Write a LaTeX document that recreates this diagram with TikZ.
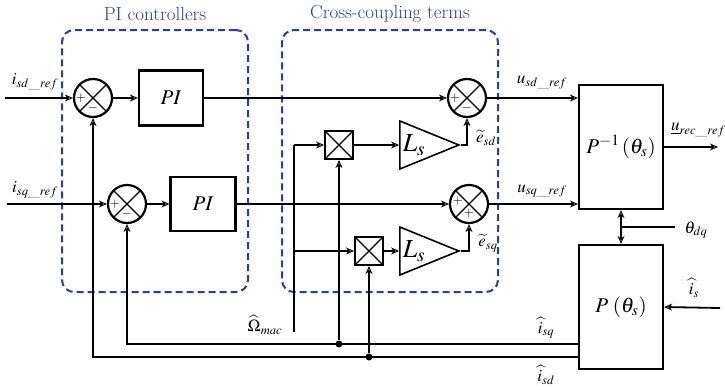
\documentclass[tikz,border=0pt]{standalone}
\usepackage{mathptmx}
\usetikzlibrary{arrows.meta,shapes.geometric}
\definecolor{grpblue}{RGB}{40,60,165}

\begin{document}
\begin{tikzpicture}[
  x=1pt, y=-1pt,
  every node/.style={inner sep=1pt},
  lbl/.style={font=\fontsize{17}{19}\selectfont},
  ttl/.style={font=\fontsize{19}{22}\selectfont, text=grpblue},
  sgn/.style={font=\fontsize{13}{14}\selectfont, inner sep=0pt},
  blk/.style={draw, line width=2.2pt, inner sep=0pt, font=\fontsize{21}{24}\selectfont},
  % summing junctions and multipliers carry a cross inside
  sum/.style={circle, draw, line width=2.2pt, minimum size=38pt, inner sep=0pt,
    path picture={\draw[line width=1.3pt]
      (path picture bounding box.north west) -- (path picture bounding box.south east)
      (path picture bounding box.north east) -- (path picture bounding box.south west);}},
  mult/.style={draw, line width=2pt, minimum size=28pt, inner sep=0pt,
    path picture={\draw[line width=1.3pt]
      (path picture bounding box.north west) -- (path picture bounding box.south east)
      (path picture bounding box.north east) -- (path picture bounding box.south west);}},
  gain/.style={isosceles triangle, isosceles triangle stretches, draw, line width=1.6pt,
    minimum width=48pt, minimum height=59pt, inner sep=0pt, font=\fontsize{26}{28}\selectfont},
  grp/.style={draw=grpblue, line width=2pt, dash pattern=on 7pt off 4pt, rounded corners=12pt},
  dot/.style={circle, fill, minimum size=7pt, inner sep=0pt},
  wire/.style={draw, line width=1.8pt},
  arrow/.style={wire, -{Stealth[open, length=8pt, width=7pt, line width=1pt]}}]

  \useasboundingbox (0,0) rectangle (725,389);

  % dashed groups
  \node[grp, minimum width=186pt, minimum height=262pt] (grppi) at (155,161) {};
  \node[grp, minimum width=216pt, minimum height=262pt] (grpcc) at (390,161) {};
  \node[ttl] (ttlpi) at (155,14) {PI controllers};
  \node[ttl] (ttlcc) at (390,14) {Cross-coupling terms};

  % vertices
  \node[sum] (sum1) at (93,98) {};
  \node[sum] (sum2) at (127,204) {};
  \node[sum] (sum3) at (467,98) {};
  \node[sum] (sum4) at (469,204) {};
  \node[blk, minimum width=64pt, minimum height=55pt] (pi1) at (171,98) {$PI$};
  \node[blk, minimum width=65pt, minimum height=54pt] (pi2) at (203,204) {$PI$};
  \node[mult] (mult1) at (339,145) {};
  \node[mult] (mult2) at (369,251) {};
  \node[gain] (gain1) at (414,145) {$L_s$};
  \node[gain] (gain2) at (414,251) {$L_s$};
  \node[blk, minimum width=84pt, minimum height=124pt] (pinv) at (621,147) {$P^{-1}\,(\theta_s)$};
  \node[blk, minimum width=84pt, minimum height=124pt] (pdir) at (621,307) {$P\;(\theta_s)$};
  \node[dot] (dotq) at (339,344) {};
  \node[dot] (dotd) at (369,357) {};
  \coordinate (isdin) at (5,98);
  \coordinate (isqin) at (7,204);
  \coordinate (urecout) at (718,147);
  \coordinate (thj) at (621,227);
  \coordinate (thin) at (675,227);
  \coordinate (isin) at (720,308);
  \coordinate (wtop) at (294,145);
  \coordinate (wbot) at (294,332);

  % arrows
  \draw[arrow] (isdin) -- (sum1);
  \draw[arrow] (sum1) -- (pi1);
  \draw[arrow] (pi1) -- (sum3);
  \draw[arrow] (sum3) -- (pinv.west |- sum3);
  \draw[arrow] (isqin) -- (sum2);
  \draw[arrow] (sum2) -- (pi2);
  \draw[arrow] (pi2) -- (sum4);
  \draw[arrow] (sum4) -- (pinv.west |- sum4);
  \draw[arrow] (pinv.east) -- (urecout);
  \draw[wire] (thin) -- (thj);
  \draw[arrow] (thj) -- (pinv.south);
  \draw[arrow] (thj) -- (pdir.north);
  \draw[arrow] (isin) -- (pdir.east);
  \draw[arrow] (pdir.west |- dotd) -| (sum1);
  \draw[arrow] (pdir.west |- dotq) -| (sum2);
  \draw[arrow] (dotq) -- (mult1);
  \draw[arrow] (dotd) -- (mult2);
  \draw[wire] (wbot) -- (wtop);
  \draw[arrow] (wtop) -- (mult1);
  \draw[arrow] (wbot |- mult2) -- (mult2);
  \draw[arrow] (mult1) -- (gain1);
  \draw[arrow] (mult2) -- (gain2);
  \draw[arrow] (gain1.apex) -| (sum3);
  \draw[arrow] (gain2.apex) -| (sum4);

  % signs
  \node[sgn] at ([xshift=-12pt] sum1.center) {$+$};
  \node[sgn] at ([yshift=-10pt] sum1.center) {$-$};
  \node[sgn] at ([xshift=-12pt] sum2.center) {$+$};
  \node[sgn] at ([yshift=-10pt] sum2.center) {$-$};
  \node[sgn] at ([xshift=-12pt] sum3.center) {$+$};
  \node[sgn] at ([yshift=-10pt] sum3.center) {$-$};
  \node[sgn] at ([xshift=-11pt, yshift=3pt] sum4.center) {$+$};
  \node[sgn] at ([yshift=-9pt] sum4.center) {$+$};

  % labels printed inside the picture
  \node[lbl] (lisd) at (35,82) {$i_{sd\_ref}$};
  \node[lbl] (lisq) at (35,190) {$i_{sq\_ref}$};
  \node[lbl] (lusd) at (542,83) {$u_{sd\_ref}$};
  \node[lbl] (lusq) at (542,191) {$u_{sq\_ref}$};
  \node[lbl, anchor=west] (lurec) at (670,130) {$\underline{u}_{rec\_ref}$};
  \node[lbl] (lth) at (696,230) {$\theta_{dq}$};
  \node[lbl] (lesd) at (486,138) {$\widetilde{e}_{sd}$};
  \node[lbl] (lesq) at (488,243) {$\widetilde{e}_{sq}$};
  \node[lbl] (lom) at (265,325) {$\widehat{\Omega}_{mac}$};
  \node[lbl] (lisqh) at (546,328) {$\widehat{i}_{sq}$};
  \node[lbl] (lisdh) at (546,375) {$\widehat{i}_{sd}$};
  \node[lbl] (lish) at (694,288) {$\widehat{i}_{s}$};
\end{tikzpicture}
\end{document}
